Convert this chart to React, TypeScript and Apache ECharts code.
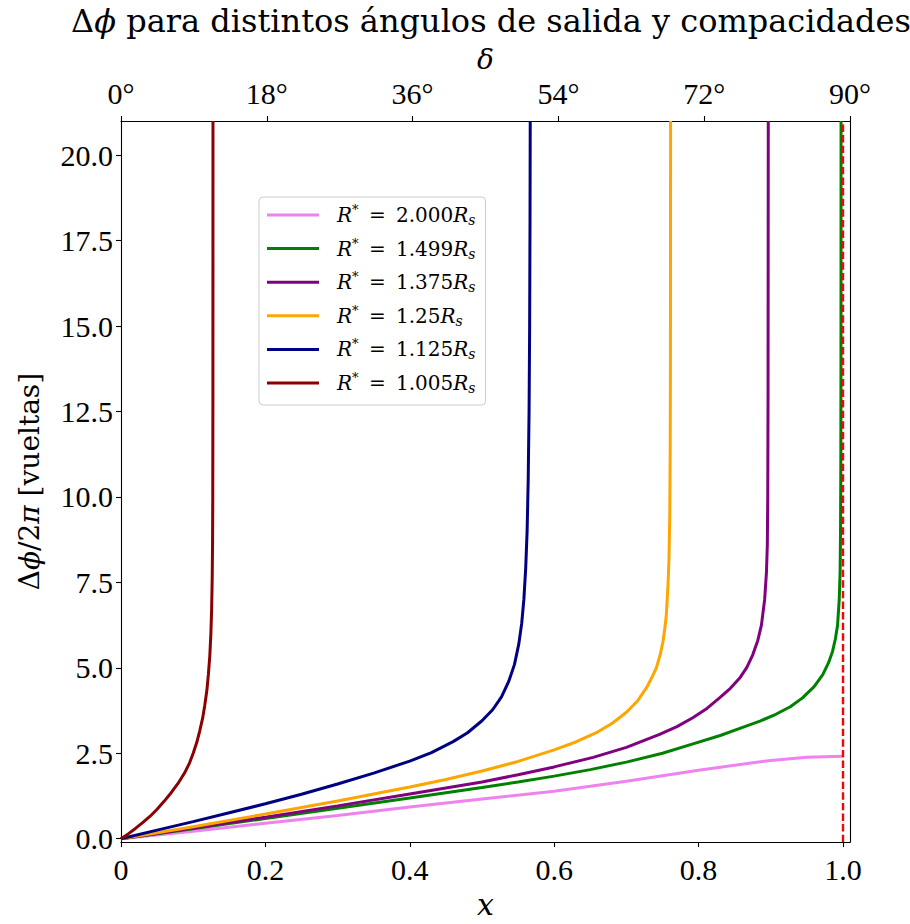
import React, { useEffect, useRef } from "react";
import * as echarts from "echarts";

const xTickValues = [0, 0.2, 0.4, 0.6, 0.8, 1.0];
const xTickLabels = ["0", "0.2", "0.4", "0.6", "0.8", "1.0"];
const yTickValues = [0, 2.5, 5, 7.5, 10, 12.5, 15, 17.5, 20];
const yTickLabels = ["0.0", "2.5", "5.0", "7.5", "10.0", "12.5", "15.0", "17.5", "20.0"];
const topTickValues = [0, 18, 36, 54, 72, 90];
const topTickLabels = ["0°", "18°", "36°", "54°", "72°", "90°"];

const legendNames = ["2.000", "1.499", "1.375", "1.25", "1.125", "1.005"];
const colors = ["#ee82ee", "#008000", "#800080", "#ffa500", "#000080", "#8b0000"];

const x2000 = [0, 0.1, 0.2, 0.3, 0.4, 0.5, 0.6, 0.7, 0.8, 0.85, 0.9, 0.95, 1.0];
const y2000 = [0, 0.22, 0.45, 0.68, 0.93, 1.16, 1.39, 1.68, 2.0, 2.15, 2.29, 2.38, 2.41];

const x1499 = [0, 0.1, 0.2, 0.3, 0.4, 0.5, 0.55, 0.6, 0.65, 0.7, 0.75, 0.79, 0.83, 0.86, 0.885, 0.907, 0.927, 0.944, 0.96, 0.972, 0.98, 0.9855, 0.9895, 0.9925, 0.9948, 0.996, 0.9966, 0.997, 0.9972, 0.9973];
const y1499 = [0, 0.29, 0.59, 0.89, 1.19, 1.5, 1.66, 1.83, 2.02, 2.24, 2.5, 2.76, 3.02, 3.25, 3.44, 3.64, 3.86, 4.12, 4.45, 4.8, 5.15, 5.48, 5.85, 6.25, 7.0, 7.8, 9, 11, 14, 21];

const x1375 = [0, 0.1, 0.2, 0.3, 0.4, 0.5, 0.55, 0.6, 0.654, 0.7, 0.746, 0.77, 0.792, 0.812, 0.829, 0.844, 0.857, 0.867, 0.875, 0.882, 0.887, 0.8915, 0.894, 0.8952, 0.8958, 0.8962, 0.8965];
const y1375 = [0, 0.31, 0.63, 0.96, 1.31, 1.66, 1.87, 2.1, 2.38, 2.67, 3.05, 3.28, 3.54, 3.82, 4.12, 4.4, 4.7, 5.02, 5.38, 5.8, 6.25, 7.0, 7.8, 8.6, 10, 13, 21];

const x125 = [0, 0.1, 0.2, 0.3, 0.4, 0.45, 0.5, 0.55, 0.6, 0.63, 0.66, 0.68, 0.7, 0.715, 0.7277, 0.736, 0.7415, 0.747, 0.7507, 0.7535, 0.7553, 0.7576, 0.759, 0.7601, 0.7607, 0.761, 0.7612];
const y125 = [0, 0.35, 0.72, 1.1, 1.51, 1.73, 1.98, 2.26, 2.6, 2.83, 3.12, 3.37, 3.7, 4.02, 4.41, 4.75, 5.0, 5.4, 5.77, 6.2, 6.55, 7.4, 8.2, 9.5, 11.5, 14, 21];

const x1125 = [0, 0.05, 0.1, 0.15, 0.2, 0.25, 0.3, 0.35, 0.4, 0.43, 0.46, 0.48, 0.5, 0.515, 0.527, 0.537, 0.545, 0.551, 0.555, 0.558, 0.5605, 0.5625, 0.564, 0.5652, 0.566, 0.5665, 0.5668];
const y1125 = [0, 0.25, 0.5, 0.76, 1.02, 1.3, 1.6, 1.92, 2.27, 2.52, 2.84, 3.1, 3.45, 3.78, 4.15, 4.6, 5.1, 5.7, 6.3, 7.0, 7.9, 9.0, 10.5, 12.5, 15, 18, 21];

const x1005 = [0, 0.01, 0.02, 0.03, 0.04, 0.05, 0.06, 0.07, 0.08, 0.088, 0.095, 0.1, 0.105, 0.109, 0.113, 0.116, 0.119, 0.121, 0.123, 0.1245, 0.1255, 0.1263, 0.1268, 0.1271, 0.1273, 0.1274];
const y1005 = [0, 0.14, 0.3, 0.47, 0.65, 0.86, 1.1, 1.36, 1.65, 1.92, 2.22, 2.5, 2.82, 3.15, 3.52, 3.9, 4.35, 4.8, 5.35, 6.0, 6.7, 7.6, 8.6, 10, 13, 21];

const seriesX = [x2000, x1499, x1375, x125, x1125, x1005];
const seriesY = [y2000, y1499, y1375, y125, y1125, y1005];

const limitX = [1.0, 1.0];
const limitY = [-0.1, 21];

const TICKFONT = "'Liberation Serif', 'DejaVu Serif', serif";
const FONT = "'DejaVu Serif', 'Liberation Serif', serif";

export default function App() {
  const ref = useRef<HTMLDivElement>(null);
  useEffect(() => {
    if (!ref.current) return;
    const chart = echarts.init(ref.current, null, { renderer: "svg" });
    const rich = {
      i: { fontFamily: FONT, fontStyle: "italic", fontSize: 20, lineHeight: 24, color: "#000" },
      n: { fontFamily: FONT, fontSize: 20, lineHeight: 24, color: "#000" },
      sup: { fontFamily: FONT, fontSize: 13, lineHeight: 13, verticalAlign: "top", color: "#000" },
      sub: { fontFamily: FONT, fontStyle: "italic", fontSize: 14, lineHeight: 14, verticalAlign: "bottom", color: "#000" },
    };
    const lineSeries = legendNames.map((nm, k) => ({
      name: nm,
      type: "line",
      xAxisIndex: 0,
      yAxisIndex: 0,
      data: seriesX[k].map((x, j) => [x, seriesY[k][j]]),
      showSymbol: false,
      symbol: "none",
      smooth: false,
      lineStyle: { color: colors[k], width: 3 },
      itemStyle: { color: colors[k] },
      clip: true,
      z: 3 + k,
    }));
    const option = {
      animation: false,
      backgroundColor: "#ffffff",
      title: {
        text: "Δ{i|ϕ} para distintos ángulos de salida y compacidades",
        left: 486,
        top: 0,
        textAlign: "center",
        textStyle: {
          fontFamily: FONT,
          fontSize: 32,
          fontWeight: "normal",
          color: "#000",
          rich: { i: { fontFamily: FONT, fontStyle: "italic", fontSize: 32, color: "#000" } },
        },
      },
      grid: { left: 121, right: 60, top: 121, bottom: 79, containLabel: false },
      legend: {
        show: true,
        orient: "vertical",
        left: 259,
        top: 197,
        data: legendNames,
        icon: "rect",
        itemWidth: 52,
        itemHeight: 3,
        itemGap: 9.6,
        padding: [6, 10, 10, 8],
        borderColor: "#cccccc",
        borderWidth: 1,
        borderRadius: 4,
        backgroundColor: "rgba(255,255,255,0.8)",
        formatter: (nm: string) => `{i|R}{sup|*}{n| \u2009=\u2009 ${nm}}{i|R}{sub|s}`,
        textStyle: { fontFamily: FONT, fontSize: 20, color: "#000", padding: [0, 0, 0, 13], rich },
      },
      xAxis: [
        {
          type: "value",
          position: "bottom",
          min: 0,
          max: 1.0097,
          name: "x",
          nameLocation: "middle",
          nameGap: 40,
          nameTextStyle: { fontFamily: FONT, fontStyle: "italic", fontSize: 30, color: "#000" },
          axisLine: { show: true, onZero: false, lineStyle: { color: "#000", width: 1.1 } },
          axisTick: { show: true, length: 5, customValues: xTickValues, lineStyle: { color: "#000", width: 1.1 } },
          axisLabel: {
            show: true,
            customValues: xTickValues,
            margin: 12,
            fontFamily: TICKFONT,
            fontSize: 30,
            color: "#000",
            formatter: (v: number) => {
              const i = xTickValues.findIndex((t) => Math.abs(t - v) < 1e-9);
              return i >= 0 ? xTickLabels[i] : "";
            },
          },
          splitLine: { show: false },
        },
        {
          type: "value",
          position: "top",
          min: 0,
          max: 90,
          name: "δ",
          nameLocation: "middle",
          nameGap: 47,
          nameTextStyle: { fontFamily: FONT, fontStyle: "italic", fontSize: 28, color: "#000" },
          axisLine: { show: true, onZero: false, lineStyle: { color: "#000", width: 1.1 } },
          axisTick: { show: true, length: 5, customValues: topTickValues, lineStyle: { color: "#000", width: 1.1 } },
          axisLabel: {
            show: true,
            customValues: topTickValues,
            margin: 13,
            fontFamily: TICKFONT,
            fontSize: 30,
            color: "#000",
            formatter: (v: number) => {
              const i = topTickValues.findIndex((t) => Math.abs(t - v) < 1e-9);
              return i >= 0 ? topTickLabels[i] : "";
            },
          },
          splitLine: { show: false },
        },
      ],
      yAxis: [
        {
          type: "value",
          position: "left",
          min: -0.1,
          max: 21,
          name: "Δ{i|ϕ}/2{i|π} [vueltas]",
          nameLocation: "middle",
          nameGap: 78,
          nameTextStyle: {
            fontFamily: FONT,
            fontSize: 28,
            color: "#000",
            rich: {
              i: { fontFamily: FONT, fontStyle: "italic", fontSize: 28, color: "#000" },
            },
          },
          axisLine: { show: true, onZero: false, lineStyle: { color: "#000", width: 1.1 } },
          axisTick: { show: true, length: 5, customValues: yTickValues, lineStyle: { color: "#000", width: 1.1 } },
          axisLabel: {
            show: true,
            customValues: yTickValues,
            margin: 8,
            fontFamily: TICKFONT,
            fontSize: 30,
            color: "#000",
            formatter: (v: number) => {
              const i = yTickValues.findIndex((t) => Math.abs(t - v) < 1e-9);
              return i >= 0 ? yTickLabels[i] : "";
            },
          },
          splitLine: { show: false },
        },
        {
          type: "value",
          position: "right",
          min: -0.1,
          max: 21,
          axisLine: { show: true, onZero: false, lineStyle: { color: "#000", width: 1.1 } },
          axisTick: { show: false },
          axisLabel: { show: false },
          splitLine: { show: false },
        },
      ],
      series: [
        ...lineSeries,
        {
          name: "limite",
          type: "line",
          xAxisIndex: 0,
          yAxisIndex: 0,
          data: limitX.map((x, j) => [x, limitY[j]]),
          showSymbol: false,
          symbol: "none",
          lineStyle: { color: "#ff0000", width: 2.4, type: [7.4, 3.2] },
          z: 20,
          clip: false,
        },
      ],
    };
    chart.setOption(option as any);
    return () => chart.dispose();
  }, []);
  return (
    <div
      ref={ref}
      style={{ position: "absolute", left: 0, top: 0, width: 910, height: 924, background: "#fff" }}
    />
  );
}
